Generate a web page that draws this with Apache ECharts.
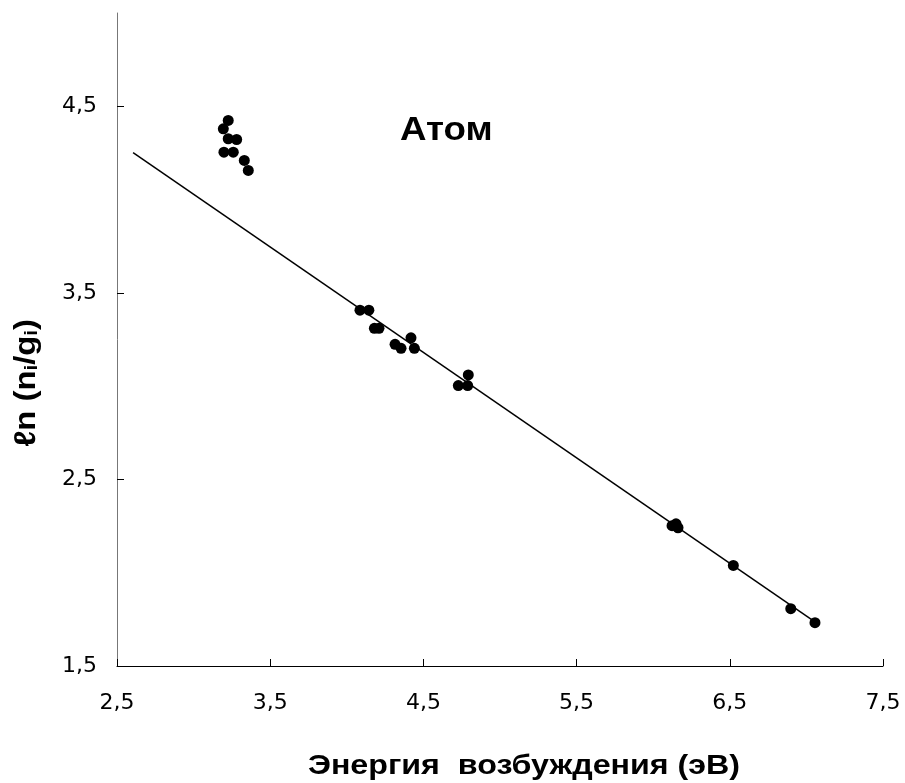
<!DOCTYPE html>
<html>
<head>
<meta charset="utf-8">
<script src="https://cdn.jsdelivr.net/npm/echarts@6/dist/echarts.min.js"></script>
<style>html,body{margin:0;padding:0;background:#fff}#c{width:905px;height:783px}</style>
</head>
<body>
<div id="c"></div>
<script>
// Data
var energyX = [3.226, 3.194, 3.226, 3.281, 3.198, 3.259, 3.331, 3.357,
  4.086, 4.144, 4.180, 4.210, 4.315, 4.354, 4.419, 4.441, 4.728, 4.789, 4.793,
  6.123, 6.149, 6.162, 6.523, 6.898, 7.056];
var lnY = [4.424, 4.379, 4.326, 4.322, 4.254, 4.254, 4.210, 4.156,
  3.407, 3.407, 3.310, 3.310, 3.224, 3.203, 3.259, 3.203, 3.003, 3.003, 3.060,
  2.252, 2.262, 2.241, 2.039, 1.807, 1.732];
var fitX = [2.605, 7.07];
var fitY = [4.252, 1.728];
var xTicks = [2.5, 3.5, 4.5, 5.5, 6.5, 7.5];
var yTicks = [1.5, 2.5, 3.5, 4.5];

var pts = energyX.map(function (x, i) { return [x, lnY[i]]; });
var fit = fitX.map(function (x, i) { return [x, fitY[i]]; });
var fmt = function (v) { return (+v).toFixed(1).replace('.', ','); };
var FONT = '"Liberation Sans", Arial, sans-serif';
var LFONT = '"DejaVu Sans", sans-serif';

var chart = echarts.init(document.getElementById('c'));
chart.setOption({
  animation: false,
  backgroundColor: '#fff',
  grid: { left: 117, right: 22, top: 13, bottom: 117 },
  xAxis: {
    type: 'value', min: 2.5, max: 7.5, interval: 1,
    axisLine: { show: true, lineStyle: { color: '#000', width: 1 } },
    axisTick: { show: true, inside: true, length: 7, lineStyle: { color: '#000' }, customValues: xTicks },
    axisLabel: { customValues: xTicks, formatter: fmt, color: '#000', fontSize: 22, fontFamily: LFONT, margin: 26 },
    splitLine: { show: false }
  },
  yAxis: {
    type: 'value', min: 1.5, max: 5.0, interval: 1,
    axisLine: { show: true, lineStyle: { color: '#777', width: 1 } },
    axisTick: { show: true, inside: true, length: 7, lineStyle: { color: '#000' }, customValues: yTicks },
    axisLabel: { customValues: yTicks, formatter: fmt, color: '#000', fontSize: 22, fontFamily: LFONT, margin: 20 },
    splitLine: { show: false }
  },
  graphic: [
    { type: 'text', x: 400, y: 114, scaleX: 1.08,
      style: { text: 'Атом', fontSize: 34, fontWeight: 'bold', fontFamily: FONT, fill: '#000' } },
    { type: 'text', x: 524, y: 752, scaleX: 1.15,
      style: { text: 'Энергия  возбуждения (эВ)', align: 'center', fontSize: 28, fontWeight: 'bold', fontFamily: FONT, fill: '#000' } },
    { type: 'text', x: 27, y: 383, rotation: Math.PI / 2, scaleX: 1.1,
      style: {
        text: '{b|ℓn (n}{s|i}{b|/g}{s|i}{b|)}', align: 'center', verticalAlign: 'middle',
        rich: {
          b: { fontSize: 30, fontWeight: 'bold', fontFamily: FONT, fill: '#000' },
          s: { fontSize: 18, fontWeight: 'bold', fontFamily: FONT, fill: '#000', padding: [10, 0, 0, 0] }
        }
      }
    }
  ],
  series: [
    { type: 'line', data: fit, showSymbol: false, lineStyle: { color: '#000', width: 1.5 }, z: 1 },
    { type: 'scatter', data: pts, symbol: 'circle', symbolSize: 11, itemStyle: { color: '#000', opacity: 1 }, z: 2 }
  ]
});
</script>
</body>
</html>
